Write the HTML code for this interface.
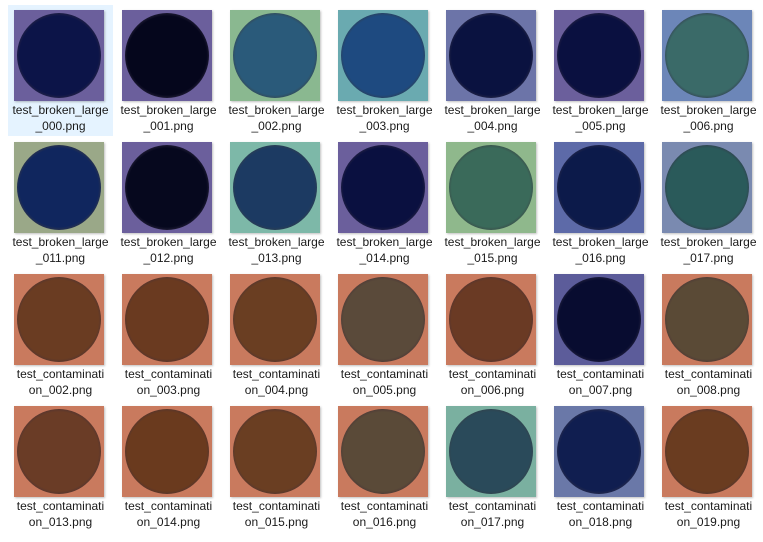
<!DOCTYPE html>
<html><head><meta charset="utf-8">
<style>
body{margin:0;width:763px;height:542px;background:#fff;overflow:hidden;font-family:"Liberation Sans","Noto Sans CJK KR",sans-serif;position:relative}
.item{position:absolute;width:105px;height:131px}
.item.sel{background:#e5f3ff}
.thumb{position:absolute;left:6px;top:5px;width:90px;height:91px;box-shadow:1px 1px 2px rgba(0,0,0,.25);overflow:hidden}
.circ{position:absolute;left:3px;top:3px;width:84px;height:85px;border-radius:50%}
.lbl{position:absolute;left:0;top:98px;width:105px;text-align:center;font-size:12px;line-height:15.5px;color:#1a1a1a}
</style></head><body>
<script>
const names=["test_broken_large|_000.png","test_broken_large|_001.png","test_broken_large|_002.png","test_broken_large|_003.png","test_broken_large|_004.png","test_broken_large|_005.png","test_broken_large|_006.png",
"test_broken_large|_011.png","test_broken_large|_012.png","test_broken_large|_013.png","test_broken_large|_014.png","test_broken_large|_015.png","test_broken_large|_016.png","test_broken_large|_017.png",
"test_contaminati|on_002.png","test_contaminati|on_003.png","test_contaminati|on_004.png","test_contaminati|on_005.png","test_contaminati|on_006.png","test_contaminati|on_007.png","test_contaminati|on_008.png",
"test_contaminati|on_013.png","test_contaminati|on_014.png","test_contaminati|on_015.png","test_contaminati|on_016.png","test_contaminati|on_017.png","test_contaminati|on_018.png","test_contaminati|on_019.png"];
const P='#6b5f9c',R='#c97a5e';
const bgs=[P,P,'#8ab890','#6aaab0','#6c74a8',P,'#6c86b8',
'#9aa888',P,'#7db8a8',P,'#8fb88c','#5d6aa8','#7a8ab0',
R,R,R,R,R,'#5c5c9a',R,R,R,R,R,'#7ab0a0','#6a78a8',R];
const cs=['#0c1448','#05061c','#2a5a7a','#1e4a80','#0a1240','#0a1040','#3a6a68',
'#10265e','#06081e','#1c3a62','#0a1040','#3a6a5a','#0c1a4a','#2a5a5a',
'#6a3c22','#6a3a20','#6a3e22','#5a4a3a','#6a3a24','#080c30','#5a4a36',
'#6a3c26','#6a3a1e','#6a3e22','#5a4a38','#2a4a5a','#101e50','#6a3c20'];
names.forEach((n,i)=>{
 const r=Math.floor(i/7),c=i%7;
 const it=document.createElement('div');
 it.className='item'+(i===0?' sel':'');
 it.style.left=(8+c*108)+'px';it.style.top=(5+r*132)+'px';
 
 
 const t=document.createElement('div');t.className='thumb';t.style.background=bgs[i];
 
 
 const ci=document.createElement('div');ci.className='circ';
 ci.style.background='radial-gradient(circle,'+cs[i]+' 0%,'+cs[i]+' 66%,rgba(30,25,40,.75) 76%,'+cs[i]+' 84%,rgba(20,15,30,.8) 95%,rgba(20,15,30,0) 100%)';
 t.appendChild(ci);
 const l=document.createElement('div');l.className='lbl';
 
 
 const p=n.split('|');l.innerHTML=p[0]+'<br>'+p[1];
 it.appendChild(t);it.appendChild(l);document.body.appendChild(it);
});
</script>
</body></html>
